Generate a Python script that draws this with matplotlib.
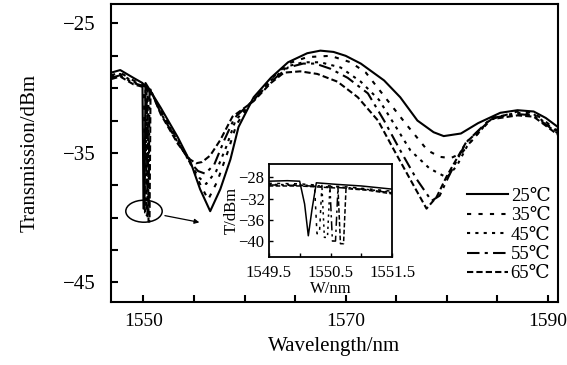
import matplotlib
matplotlib.use('Agg')
import matplotlib.pyplot as plt
from matplotlib.patches import Ellipse

plt.rcParams['font.family'] = ['Liberation Serif', 'DejaVu Serif']

### Data
labels = ['25\u2103', '35\u2103', '45\u2103', '55\u2103', '65\u2103']

# main spectra: wavelength (nm) / transmission (dBm)
wl_25 = [1546.8, 1547.7, 1549.0, 1549.9, 1550.0, 1550.1, 1550.2, 1551.7, 1553.4, 1554.7,
         1555.6, 1556.6, 1557.6, 1558.6, 1559.4, 1560.9, 1562.6, 1564.3, 1566.2, 1567.5,
         1568.8, 1570.0, 1571.5, 1573.8, 1575.4, 1577.1, 1578.7, 1579.7, 1581.4, 1583.1,
         1585.3, 1587.0, 1588.6, 1589.8, 1591.0]
t_25 = [-28.8, -28.6, -29.2, -29.6, -39.3, -39.3, -29.6, -31.5, -33.8, -35.8,
        -37.8, -39.5, -37.8, -35.5, -33.0, -30.7, -29.2, -28.0, -27.3, -27.1,
        -27.2, -27.5, -28.1, -29.4, -30.7, -32.5, -33.4, -33.7, -33.5, -32.7,
        -31.9, -31.7, -31.8, -32.3, -33.0]

wl_35 = [1546.8, 1547.7, 1549.0, 1550.05, 1550.15, 1550.25, 1550.35, 1551.7, 1553.4, 1554.7,
         1555.6, 1556.4, 1557.3, 1558.3, 1559.2, 1560.9, 1562.6, 1564.3, 1566.2, 1568.5,
         1570.5, 1572.0, 1574.1, 1576.0, 1578.1, 1579.3, 1580.4, 1581.5, 1582.5, 1584.4,
         1587.0, 1588.6, 1591.0]
t_35 = [-29.0, -28.8, -29.4, -29.7, -39.6, -39.6, -29.8, -31.7, -34.0, -35.9,
        -37.4, -38.6, -37.2, -35.0, -32.8, -30.8, -29.3, -28.1, -27.6, -27.5,
        -28.0, -28.8, -30.9, -32.8, -34.8, -35.3, -35.4, -35.0, -34.0, -32.4,
        -31.8, -31.9, -33.3]

wl_45 = [1546.8, 1547.7, 1549.0, 1550.2, 1550.3, 1550.4, 1550.5, 1551.7, 1553.4, 1554.7,
         1555.5, 1556.2, 1557.2, 1558.2, 1559.1, 1560.9, 1562.6, 1564.3, 1565.8, 1567.5,
         1569.5, 1571.5, 1573.3, 1574.9, 1576.4, 1578.3, 1580.0, 1581.0, 1582.0, 1584.4,
         1587.0, 1588.6, 1591.0]
t_45 = [-29.1, -28.9, -29.5, -29.8, -39.8, -39.8, -29.9, -31.8, -34.1, -35.9,
        -36.9, -37.4, -36.4, -34.5, -32.5, -30.9, -29.4, -28.3, -28.0, -28.0,
        -28.4, -29.5, -30.9, -32.9, -34.8, -36.2, -36.9, -36.0, -34.5, -32.3,
        -31.9, -32.0, -33.4]

wl_55 = [1546.8, 1547.7, 1549.0, 1550.3, 1550.4, 1550.5, 1550.6, 1551.7, 1553.4, 1554.7,
         1555.4, 1556.1, 1557.0, 1558.0, 1559.0, 1560.9, 1562.6, 1564.3, 1565.8, 1567.0,
         1568.5, 1570.2, 1572.2, 1573.8, 1575.4, 1577.0, 1578.5, 1579.3, 1580.2, 1581.9,
         1584.4, 1587.0, 1588.6, 1591.0]
t_55 = [-29.2, -29.0, -29.6, -29.9, -40.0, -40.0, -30.0, -31.9, -34.2, -35.8,
        -36.4, -36.6, -35.9, -34.0, -32.3, -30.9, -29.5, -28.4, -28.1, -28.1,
        -28.5, -29.2, -30.4, -32.5, -34.8, -37.0, -38.7, -38.3, -36.8, -34.2,
        -32.3, -32.0, -32.1, -33.5]

wl_65 = [1546.8, 1547.7, 1549.0, 1550.4, 1550.5, 1550.6, 1550.7, 1551.7, 1553.4, 1554.6,
         1555.2, 1555.8, 1556.6, 1557.6, 1558.8, 1560.9, 1562.6, 1563.9, 1565.5, 1567.2,
         1569.2, 1571.2, 1573.2, 1574.8, 1576.5, 1578.0, 1579.0, 1580.0, 1581.9, 1584.4,
         1587.0, 1588.6, 1591.0]
t_65 = [-29.3, -29.1, -29.7, -30.0, -40.3, -40.3, -30.1, -32.0, -34.3, -35.5,
        -35.8, -35.7, -35.2, -34.0, -32.2, -31.0, -29.6, -28.8, -28.7, -28.9,
        -29.5, -30.7, -32.5, -34.8, -37.2, -39.3, -38.4, -36.8, -34.2, -32.4,
        -32.1, -32.2, -33.6]

# inset: zoom on the narrow dip near 1550 nm
iw_25 = [1549.5, 1549.8, 1550.0, 1550.08, 1550.14, 1550.2, 1550.27, 1550.6, 1551.0, 1551.5]
it_25 = [-28.7, -28.6, -28.7, -33.0, -39.0, -34.0, -29.0, -29.3, -29.6, -30.2]
iw_35 = [1549.5, 1550.0, 1550.24, 1550.28, 1550.32, 1550.36, 1550.8, 1551.5]
it_35 = [-29.1, -29.2, -29.4, -38.6, -38.6, -29.5, -29.8, -30.6]
iw_45 = [1549.5, 1550.0, 1550.36, 1550.4, 1550.45, 1550.49, 1550.9, 1551.5]
it_45 = [-29.3, -29.4, -29.6, -39.3, -39.3, -29.7, -30.0, -30.8]
iw_55 = [1549.5, 1550.0, 1550.49, 1550.53, 1550.58, 1550.62, 1551.0, 1551.5]
it_55 = [-29.4, -29.5, -29.8, -40.0, -40.0, -29.9, -30.2, -30.9]
iw_65 = [1549.5, 1550.0, 1550.62, 1550.66, 1550.71, 1550.75, 1551.1, 1551.5]
it_65 = [-29.6, -29.6, -30.0, -40.5, -40.5, -30.1, -30.4, -31.1]

x_major = [1550, 1570, 1590]
x_minor = [1555, 1560, 1565, 1575, 1580, 1585]
y_major = [-25, -35, -45]
y_minor = [-27.5, -30, -32.5, -37.5, -40, -42.5]

styles = ['-', (0, (2, 3.5)), (0, (1.5, 2.5)), (0, (6, 2.5, 1.5, 2.5)), (0, (3, 1.5))]

### Plot
fig = plt.figure(figsize=(5.67, 3.65), dpi=100)
ax = fig.add_axes([0.196, 0.173, 0.788, 0.816])

main = [(wl_25, t_25), (wl_35, t_35), (wl_45, t_45), (wl_55, t_55), (wl_65, t_65)]
for (w, t), ls, lab in zip(main, styles, labels):
    ax.plot(w, t, color='black', lw=1.5, ls=ls, label=lab)

ax.set_xlim(1546.8, 1591.0)
ax.set_ylim(-46.5, -23.5)
ax.set_xticks(x_major)
ax.set_xticks(x_minor, minor=True)
ax.set_yticks(y_major)
ax.set_yticks(y_minor, minor=True)
ax.tick_params(which='both', direction='in', length=5, width=1.5, labelsize=15)
ax.tick_params(axis='x', pad=8, labelsize=14)
ax.tick_params(axis='y', pad=11)
for s in ax.spines.values():
    s.set_linewidth(1.5)
ax.set_xlabel('Wavelength/nm', fontsize=15, labelpad=5)
ax.set_ylabel('Transmission/dBm', fontsize=15, labelpad=17)

ax.legend(loc='lower right', frameon=False, fontsize=13.5, handlelength=2.2,
          handletextpad=0.15, labelspacing=0.12, borderaxespad=0.0,
          bbox_to_anchor=(1.0, 0.04))

# marked dip and arrow to the inset
ax.add_patch(Ellipse((1550.05, -39.5), 3.6, 1.7, fill=False, lw=1.1, color='black'))
ax.annotate('', xy=(1555.8, -40.4), xytext=(1551.85, -39.8),
            arrowprops=dict(arrowstyle='-|>', color='black', lw=0.9, mutation_scale=7))

# inset
ins = fig.add_axes([0.474, 0.296, 0.218, 0.254])
inset = [(iw_25, it_25), (iw_35, it_35), (iw_45, it_45), (iw_55, it_55), (iw_65, it_65)]
for (w, t), ls in zip(inset, styles):
    ins.plot(w, t, color='black', lw=1.1, ls=ls)
ins.set_xlim(1549.5, 1551.5)
ins.set_ylim(-43, -25.5)
ins.set_xticks([1549.5, 1550.5, 1551.5])
ins.set_xticks([1550.0, 1551.0], minor=True)
ins.set_yticks([-28, -32, -36, -40])
ins.tick_params(which='both', direction='in', length=3, width=1, labelsize=12)
ins.tick_params(axis='x', pad=6)
ins.tick_params(axis='y', pad=3)
for s in ins.spines.values():
    s.set_linewidth(1.3)
ins.set_xlabel('W/nm', fontsize=12, labelpad=0)
ins.set_ylabel('T/dBm', fontsize=12, labelpad=-1)

fig.savefig('out.png', dpi=100)
